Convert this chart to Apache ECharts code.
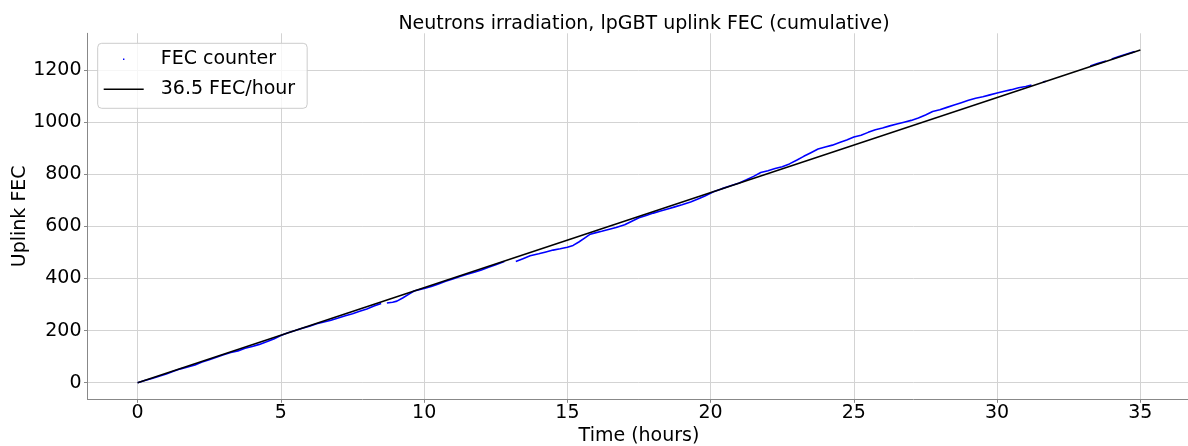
<!DOCTYPE html>
<html>
<head>
<meta charset="utf-8">
<script src="https://cdn.jsdelivr.net/npm/echarts@6/dist/echarts.min.js"></script>
<style>html,body{margin:0;padding:0;background:#fff;}#chart{width:1188px;height:446px;}</style>
</head>
<body>
<div id="chart"></div>
<script>
// ---- data ----
const titleText = 'Neutrons irradiation, lpGBT uplink FEC (cumulative)';
const xName = 'Time (hours)';
const yName = 'Uplink FEC';
const seriesNames = ['FEC counter', '36.5 FEC/hour'];
const xTicks = [0, 5, 10, 15, 20, 25, 30, 35];
const yTicks = [0, 200, 400, 600, 800, 1000, 1200];
const xRange = [-1.75, 36.75];
const yRange = [-63.875, 1341.375];
// cumulative FEC counter (null = no data)
const fecTime = [0, 0.25, 0.5, 0.75, 1.0, 1.25, 1.5, 1.75, 2.0, 2.25, 2.5, 2.75, 3.0, 3.25, 3.5, 3.75,
  4.0, 4.25, 4.5, 4.75, 5.0, 5.25, 5.5, 5.75, 6.0, 6.25, 6.5, 6.75, 7.0, 7.25, 7.5, 7.75, 8.0, 8.25, 8.5,
  8.6, 8.7, 8.9, 9.05, 9.25, 9.5, 9.65, 10.0, 10.25, 10.5, 10.75, 11.0, 11.25, 11.5, 11.75, 12.0, 12.25,
  12.5, 12.8, 13.0, 13.2, 13.45, 13.7, 14.0, 14.25, 14.5, 14.75, 15.0, 15.2, 15.4, 15.6, 15.8, 16.0, 16.2,
  16.4, 16.7, 17.0, 17.25, 17.5, 17.75, 18.0, 18.25, 18.5, 18.75, 19.0, 19.3, 19.6, 19.8, 20.1, 20.4, 20.7,
  21.0, 21.25, 21.5, 21.75, 22.0, 22.25, 22.5, 22.75, 23.0, 23.25, 23.5, 23.75, 24.0, 24.25, 24.5, 24.75,
  25.0, 25.25, 25.5, 25.75, 26.0, 26.25, 26.5, 26.75, 27.0, 27.25, 27.5, 27.75, 28.0, 28.25, 28.5, 28.75,
  29.0, 29.25, 29.5, 29.75, 30.0, 30.25, 30.5, 30.75, 31.0, 31.2, 31.4, 31.6, 31.7, 32.5, 33.25, 33.5,
  33.8, 33.9, 34.0, 34.25, 34.5, 34.8];
const fecCount = [0, 8, 16, 25, 33, 44, 53, 60, 68, 79, 88, 98, 107, 116, 122, 132,
  139, 147, 157, 168, 181, 192, 200, 209, 217, 226, 233, 240, 248, 257, 265, 274, 283, 294, 304,
  null, 306, 309, 313, 325, 342, 352, 362, 369, 379, 389, 398, 408, 416, 424, 433, 443,
  453, 465, null, 465, 476, 487, 495, 502, 509, 514, 520, 527, 540, 555, 570, 576, 581,
  587, 596, 606, 620, 633, 642, 651, 659, 667, 675, 683, 694, 707, 717, 733, 745, 756,
  767, 779, 792, 807, 814, 822, 829, 840, 854, 869, 883, 897, 905, 912, 922, 932,
  943, 950, 961, 971, 978, 986, 993, 1000, 1007, 1016, 1028, 1041, 1048, 1057, 1066, 1075,
  1084, 1092, 1098, 1105, 1112, 1119, 1125, 1132, 1137, 1143, null, 1154, 1157, null, 1216, 1225,
  1235, null, 1243, 1252, 1261, 1271];
// fitted rate line
const fitTime = [0, 35];
const fitCount = [0, 1277.5];

const font = 'DejaVu Sans';
const fecData = fecTime.map((t, i) => [t, fecCount[i] === null ? '-' : fecCount[i]]);
const fitData = fitTime.map((t, i) => [t, fitCount[i]]);
const plain = (v) => String(v);

const chart = echarts.init(document.getElementById('chart'), null, {renderer: 'canvas'});
chart.setOption({
  animation: false,
  backgroundColor: '#ffffff',
  title: {
    text: titleText,
    left: 639, top: 10, textAlign: 'center',
    textStyle: {fontFamily: font, fontSize: 19, fontWeight: 'normal', color: '#000'}
  },
  grid: {left: 87.5, top: 33.3, width: 1103, height: 366, containLabel: false, outerBoundsMode: 'none'},
  xAxis: {
    type: 'value', min: xRange[0], max: xRange[1],
    name: xName, nameLocation: 'middle', nameGap: 27, nameMoveOverlap: false,
    nameTextStyle: {fontFamily: font, fontSize: 19, color: '#000'},
    axisLine: {show: true, onZero: false, lineStyle: {color: '#888', width: 1}},
    axisTick: {show: true, length: 3.5, customValues: xTicks, lineStyle: {color: '#888'}},
    axisLabel: {customValues: xTicks, formatter: plain, fontFamily: font, fontSize: 19, color: '#000', margin: 4},
    splitLine: {show: true, lineStyle: {color: '#d3d3d3', width: 1}}
  },
  yAxis: {
    type: 'value', min: yRange[0], max: yRange[1],
    name: yName, nameLocation: 'middle', nameGap: 58, nameRotate: 90, nameMoveOverlap: false,
    nameTextStyle: {fontFamily: font, fontSize: 19, color: '#000'},
    axisLine: {show: true, onZero: false, lineStyle: {color: '#888', width: 1}},
    axisTick: {show: true, length: 3.5, customValues: yTicks, lineStyle: {color: '#888'}},
    axisLabel: {customValues: yTicks, formatter: plain, fontFamily: font, fontSize: 19, color: '#000', margin: 6},
    splitLine: {show: true, lineStyle: {color: '#d3d3d3', width: 1}}
  },
  legend: {
    orient: 'vertical', left: 97.7, top: 43.3,
    padding: [5, 12, 8, 6], itemGap: 8, itemWidth: 40, itemHeight: 14,
    backgroundColor: 'rgba(255,255,255,0.8)', borderColor: '#cccccc', borderWidth: 1, borderRadius: 4,
    textStyle: {fontFamily: font, fontSize: 19, color: '#000', lineHeight: 22, padding: [0, 0, 0, 12]},
    data: [
      {name: seriesNames[0], icon: 'path://M0 0L0 0M100 100L100 100M45 45L55 45L55 55L45 55Z', itemStyle: {borderWidth: 0, color: '#0000ff'}},
      {name: seriesNames[1], icon: 'path://M0 0L0 0M40 14L40 14M0 6.25L40 6.25L40 7.75L0 7.75Z', itemStyle: {borderWidth: 0, color: '#000000'}}
    ]
  },
  series: [
    {
      name: seriesNames[0], type: 'line', data: fecData, connectNulls: false,
      symbol: 'none', showSymbol: false, color: '#0000ff',
      lineStyle: {color: '#0000ff', width: 1.6}, z: 2
    },
    {
      name: seriesNames[1], type: 'line', data: fitData,
      symbol: 'none', showSymbol: false, color: '#000000',
      lineStyle: {color: '#000000', width: 1.5}, z: 3
    }
  ]
});
</script>
</body>
</html>
